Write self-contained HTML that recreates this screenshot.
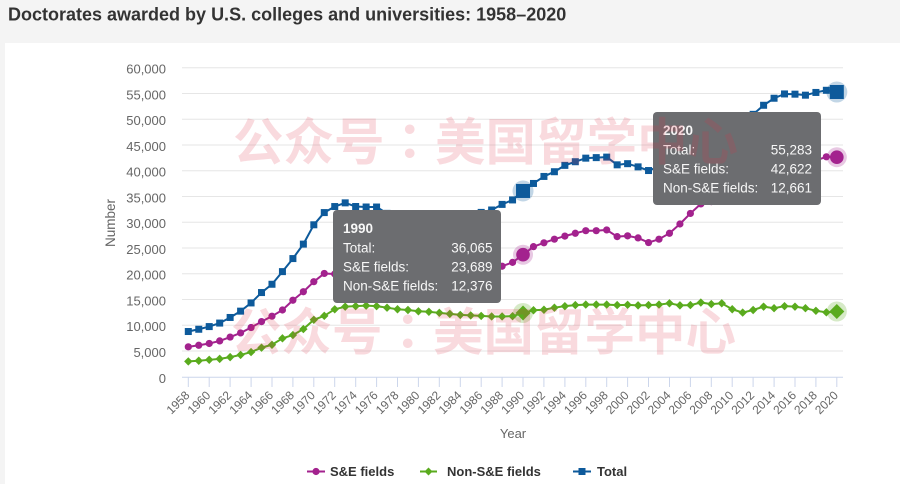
<!DOCTYPE html>
<html><head><meta charset="utf-8">
<style>
html,body{margin:0;padding:0;width:900px;height:484px;overflow:hidden;background:#f4f4f4;}
svg{display:block}
</style></head><body>
<svg width="900" height="484" xmlns="http://www.w3.org/2000/svg" font-family="'Liberation Sans', Arial, sans-serif">
<rect x="0" y="0" width="900" height="484" fill="#f4f4f4"/>
<rect x="5" y="43" width="895" height="441" fill="#ffffff"/>
<text x="8" y="20.5" font-size="18" font-weight="bold" fill="#333333">Doctorates awarded by U.S. colleges and universities: 1958–2020</text>

<g stroke="#e6e6e6" stroke-width="1" fill="none">
<line x1="182" x2="843" y1="351" y2="351"/>
<line x1="182" x2="843" y1="325.2" y2="325.2"/>
<line x1="182" x2="843" y1="299.5" y2="299.5"/>
<line x1="182" x2="843" y1="273.7" y2="273.7"/>
<line x1="182" x2="843" y1="248" y2="248"/>
<line x1="182" x2="843" y1="222.2" y2="222.2"/>
<line x1="182" x2="843" y1="196.5" y2="196.5"/>
<line x1="182" x2="843" y1="170.7" y2="170.7"/>
<line x1="182" x2="843" y1="145" y2="145"/>
<line x1="182" x2="843" y1="119.2" y2="119.2"/>
<line x1="182" x2="843" y1="93.5" y2="93.5"/>
<line x1="182" x2="843" y1="67.7" y2="67.7"/>
</g>
<line x1="182" x2="843" y1="377.2" y2="377.2" stroke="#ccd6eb" stroke-width="1"/>
<g stroke="#ccd6eb" stroke-width="1">
<line x1="188.3" x2="188.3" y1="377" y2="387"/><line x1="209.2" x2="209.2" y1="377" y2="387"/><line x1="230.1" x2="230.1" y1="377" y2="387"/><line x1="251.1" x2="251.1" y1="377" y2="387"/><line x1="272" x2="272" y1="377" y2="387"/><line x1="292.9" x2="292.9" y1="377" y2="387"/><line x1="313.8" x2="313.8" y1="377" y2="387"/><line x1="334.7" x2="334.7" y1="377" y2="387"/><line x1="355.7" x2="355.7" y1="377" y2="387"/><line x1="376.6" x2="376.6" y1="377" y2="387"/><line x1="397.5" x2="397.5" y1="377" y2="387"/><line x1="418.4" x2="418.4" y1="377" y2="387"/><line x1="439.3" x2="439.3" y1="377" y2="387"/><line x1="460.3" x2="460.3" y1="377" y2="387"/><line x1="481.2" x2="481.2" y1="377" y2="387"/><line x1="502.1" x2="502.1" y1="377" y2="387"/><line x1="523" x2="523" y1="377" y2="387"/><line x1="543.9" x2="543.9" y1="377" y2="387"/><line x1="564.9" x2="564.9" y1="377" y2="387"/><line x1="585.8" x2="585.8" y1="377" y2="387"/><line x1="606.7" x2="606.7" y1="377" y2="387"/><line x1="627.6" x2="627.6" y1="377" y2="387"/><line x1="648.5" x2="648.5" y1="377" y2="387"/><line x1="669.5" x2="669.5" y1="377" y2="387"/><line x1="690.4" x2="690.4" y1="377" y2="387"/><line x1="711.3" x2="711.3" y1="377" y2="387"/><line x1="732.2" x2="732.2" y1="377" y2="387"/><line x1="753.1" x2="753.1" y1="377" y2="387"/><line x1="774.1" x2="774.1" y1="377" y2="387"/><line x1="795" x2="795" y1="377" y2="387"/><line x1="815.9" x2="815.9" y1="377" y2="387"/><line x1="836.8" x2="836.8" y1="377" y2="387"/>
</g>

<g font-size="13" fill="#666666" text-anchor="end">
<text x="166" y="383">0</text>
<text x="166" y="357">5,000</text>
<text x="166" y="331.2">10,000</text>
<text x="166" y="305.5">15,000</text>
<text x="166" y="279.7">20,000</text>
<text x="166" y="254">25,000</text>
<text x="166" y="228.2">30,000</text>
<text x="166" y="202.5">35,000</text>
<text x="166" y="176.7">40,000</text>
<text x="166" y="151">45,000</text>
<text x="166" y="125.2">50,000</text>
<text x="166" y="99.5">55,000</text>
<text x="166" y="73.7">60,000</text>
</g>
<text transform="translate(115,223) rotate(-90)" text-anchor="middle" font-size="13.5" fill="#666666">Number</text>
<text x="513" y="438" text-anchor="middle" font-size="13" fill="#666666">Year</text>

<g font-size="12" fill="#666666" text-anchor="end">
<text transform="translate(190.3,396) rotate(-45)">1958</text>
<text transform="translate(211.2,396) rotate(-45)">1960</text>
<text transform="translate(232.1,396) rotate(-45)">1962</text>
<text transform="translate(253.1,396) rotate(-45)">1964</text>
<text transform="translate(274,396) rotate(-45)">1966</text>
<text transform="translate(294.9,396) rotate(-45)">1968</text>
<text transform="translate(315.8,396) rotate(-45)">1970</text>
<text transform="translate(336.7,396) rotate(-45)">1972</text>
<text transform="translate(357.7,396) rotate(-45)">1974</text>
<text transform="translate(378.6,396) rotate(-45)">1976</text>
<text transform="translate(399.5,396) rotate(-45)">1978</text>
<text transform="translate(420.4,396) rotate(-45)">1980</text>
<text transform="translate(441.3,396) rotate(-45)">1982</text>
<text transform="translate(462.3,396) rotate(-45)">1984</text>
<text transform="translate(483.2,396) rotate(-45)">1986</text>
<text transform="translate(504.1,396) rotate(-45)">1988</text>
<text transform="translate(525,396) rotate(-45)">1990</text>
<text transform="translate(545.9,396) rotate(-45)">1992</text>
<text transform="translate(566.9,396) rotate(-45)">1994</text>
<text transform="translate(587.8,396) rotate(-45)">1996</text>
<text transform="translate(608.7,396) rotate(-45)">1998</text>
<text transform="translate(629.6,396) rotate(-45)">2000</text>
<text transform="translate(650.5,396) rotate(-45)">2002</text>
<text transform="translate(671.5,396) rotate(-45)">2004</text>
<text transform="translate(692.4,396) rotate(-45)">2006</text>
<text transform="translate(713.3,396) rotate(-45)">2008</text>
<text transform="translate(734.2,396) rotate(-45)">2010</text>
<text transform="translate(755.1,396) rotate(-45)">2012</text>
<text transform="translate(776.1,396) rotate(-45)">2014</text>
<text transform="translate(797,396) rotate(-45)">2016</text>
<text transform="translate(817.9,396) rotate(-45)">2018</text>
<text transform="translate(838.8,396) rotate(-45)">2020</text>
</g>

<g id="series"></g>

<!-- Tooltip 1990 -->
<rect x="333" y="210" width="168" height="93" rx="4" ry="4" fill="#6c6d70"/>
<g font-size="13.5" fill="#f7f7f7">
<text x="343" y="233" font-weight="bold">1990</text>
<text x="343" y="252.5">Total:</text>
<text x="492.5" y="252.5" text-anchor="end">36,065</text>
<text x="343" y="271.5">S&amp;E fields:</text>
<text x="492.5" y="271.5" text-anchor="end">23,689</text>
<text x="343" y="290.5">Non-S&amp;E fields:</text>
<text x="492.5" y="290.5" text-anchor="end">12,376</text>
</g>

<!-- Tooltip 2020 -->
<rect x="653" y="112" width="168" height="93" rx="4" ry="4" fill="#6c6d70"/>
<g font-size="13.5" fill="#f7f7f7">
<text x="663" y="135" font-weight="bold">2020</text>
<text x="663" y="154.5">Total:</text>
<text x="812" y="154.5" text-anchor="end">55,283</text>
<text x="663" y="173.5">S&amp;E fields:</text>
<text x="812" y="173.5" text-anchor="end">42,622</text>
<text x="663" y="192.5">Non-S&amp;E fields:</text>
<text x="812" y="192.5" text-anchor="end">12,661</text>
</g>

<!-- Legend -->
<line x1="307" x2="325" y1="471.5" y2="471.5" stroke="#a3228e" stroke-width="2"/>
<circle cx="316" cy="471.5" r="3.6" fill="#a3228e"/>
<text x="330" y="476" font-size="13" font-weight="bold" fill="#333333">S&amp;E fields</text>
<line x1="420" x2="437" y1="471.5" y2="471.5" stroke="#5aab1e" stroke-width="2"/>
<polygon points="428.5,467.5 432.5,471.5 428.5,475.5 424.5,471.5" fill="#5aab1e"/>
<text x="447" y="476" font-size="13" font-weight="bold" fill="#333333">Non-S&amp;E fields</text>
<line x1="573" x2="591" y1="471.5" y2="471.5" stroke="#0d5a9b" stroke-width="2"/>
<rect x="578.5" y="468" width="7" height="7" fill="#0d5a9b"/>
<text x="597" y="476" font-size="13" font-weight="bold" fill="#333333">Total</text>

<!-- Watermark -->
<g font-family="'Liberation Sans','Noto Sans CJK SC','WenQuanYi Zen Hei',sans-serif" font-size="50.5" font-weight="bold" fill="rgba(220,50,70,0.18)">
<text x="233" y="160">公众号<tspan font-family="'Noto Sans CJK TC','Noto Sans CJK JP',sans-serif">：</tspan>美国留学中心</text>
<text x="231" y="350">公众号<tspan font-family="'Noto Sans CJK TC','Noto Sans CJK JP',sans-serif">：</tspan>美国留学中心</text>
</g>
</svg>
<script>
(function(){
var T=[8773,9213,9733,10413,11500,12728,14325,16340,17949,20403,22937,25743,29498,31867,33041,33755,33047,32952,32946,31716,30875,31239,31020,31356,31111,31281,31337,31297,31902,32370,33456,34327,36065,37522,38886,39801,41034,41743,42437,42539,42638,41140,41366,40744,40031,40766,42123,43385,45617,48132,48777,49553,48032,48908,50944,52704,54070,54904,54861,54664,55195,55614,55283];
var S=[5800,6100,6450,6950,7700,8500,9550,10700,11750,12950,14850,16500,18450,20050,19950,19750,19050,18950,18950,18100,17750,18100,18000,18500,18500,18950,19150,19300,19900,20350,21450,22200,23689,25250,26000,26700,27300,27850,28350,28350,28500,27200,27350,26950,26050,26700,27850,29650,31700,33550,34000,35000,35000,36000,37500,39000,40500,41000,41300,41400,42000,42700,42622];
var N=[2970,3100,3280,3460,3800,4230,4780,5640,6200,7450,8090,9240,11050,11820,13090,13600,13700,13800,13700,13400,13100,12950,12700,12600,12400,12200,12000,11900,11800,11700,11700,11750,12376,12900,13000,13400,13700,13900,14000,14000,14000,13900,13950,13850,13900,14000,14250,13850,13900,14400,14100,14250,13100,12450,12950,13600,13300,13700,13600,13300,12800,12500,12661];
function X(i){return 188.3+i*10.46}
function Y(v){return 376.7-v*0.00515}
function line(a,c){var d='';for(var i=0;i<a.length;i++){d+=(i?'L':'M')+X(i).toFixed(2)+' '+Y(a[i]).toFixed(2)}return '<path d="'+d+'" fill="none" stroke="'+c+'" stroke-width="2" stroke-linejoin="round" stroke-linecap="round"/>'}
var cS='#a3228e',cN='#5aab1e',cT='#0d5a9b';
var h='',i,x,y;
h+=line(S,cS);
for(i=0;i<S.length;i++){h+='<circle cx="'+X(i).toFixed(2)+'" cy="'+Y(S[i]).toFixed(2)+'" r="3.6" fill="'+cS+'"/>'}
h+=line(N,cN);
for(i=0;i<N.length;i++){x=X(i);y=Y(N[i]);h+='<polygon points="'+x.toFixed(2)+','+(y-4.2).toFixed(2)+' '+(x+4.2).toFixed(2)+','+y.toFixed(2)+' '+x.toFixed(2)+','+(y+4.2).toFixed(2)+' '+(x-4.2).toFixed(2)+','+y.toFixed(2)+'" fill="'+cN+'"/>'}
h+=line(T,cT);
for(i=0;i<T.length;i++){h+='<rect x="'+(X(i)-3.5).toFixed(2)+'" y="'+(Y(T[i])-3.5).toFixed(2)+'" width="7" height="7" fill="'+cT+'"/>'}
[32,62].forEach(function(k){
  x=X(k);
  y=Y(S[k]);h+='<circle cx="'+x+'" cy="'+y+'" r="10" fill="'+cS+'" fill-opacity="0.25"/><circle cx="'+x+'" cy="'+y+'" r="6.8" fill="'+cS+'"/>';
  y=Y(N[k]);h+='<circle cx="'+x+'" cy="'+y+'" r="10" fill="'+cN+'" fill-opacity="0.25"/><polygon points="'+x+','+(y-7.5)+' '+(x+7.5)+','+y+' '+x+','+(y+7.5)+' '+(x-7.5)+','+y+'" fill="'+cN+'"/>';
  y=Y(T[k]);h+='<circle cx="'+x+'" cy="'+y+'" r="10.5" fill="'+cT+'" fill-opacity="0.25"/><rect x="'+(x-7)+'" y="'+(y-7)+'" width="14" height="14" fill="'+cT+'"/>';
});
document.getElementById('series').innerHTML=h;
})();
</script>
</body></html>
